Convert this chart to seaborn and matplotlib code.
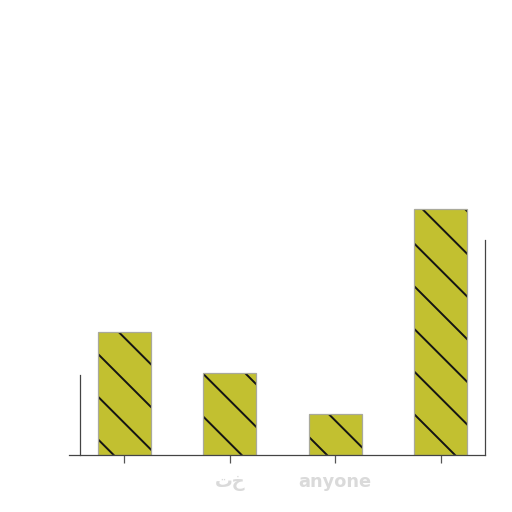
import matplotlib
matplotlib.use("Agg")
import matplotlib.pyplot as plt
import seaborn as sns
import pandas as pd

# values
categories = ["a", "b", "c", "d"]
values = [3, 2, 1, 6]
tick_labels = ["", "تخ", "anyone", ""]

sns.set_theme(style="white")
plt.rcParams["font.family"] = ["DejaVu Sans"]
plt.rcParams["hatch.linewidth"] = 0.55

df = pd.DataFrame({"cat": categories, "val": values})

fig = plt.figure(figsize=(2, 2), dpi=256)
ax = fig.add_axes([80 / 512, 1 - 455 / 512, 405 / 512, 410 / 512])

sns.barplot(data=df, x="cat", y="val", ax=ax, color="#c2c030", saturation=1,
            width=0.5, edgecolor="#a9a99c", linewidth=0.35)
for p in ax.patches:
    p.set_hatch("\\\\")
    p._hatch_color = (0.08, 0.08, 0.08, 1)  # black hatch, grey outline

ax.set_xlim(-0.42, 3.42)
ax.set_ylim(0, 10)
ax.set_xlabel("")
ax.set_ylabel("")
ax.set_yticks([])
ax.set_xticks(range(len(categories)), tick_labels)

for s in ["left", "right", "bottom"]:
    ax.spines[s].set_visible(True)
    ax.spines[s].set_color("#444444")
    ax.spines[s].set_linewidth(0.35)
ax.spines["top"].set_visible(False)
ax.spines["left"].set_bounds(0, 1.95)
ax.spines["right"].set_bounds(0, 5.25)
ax.spines["bottom"].set_bounds(-0.52, 3.42)

ax.tick_params(axis="x", bottom=True, length=2.2, width=0.35, color="#555555",
               labelsize=5, labelcolor="#dadada", pad=3)
for t in ax.get_xticklabels():
    t.set_fontweight("bold")

fig.savefig("out.png", dpi=256)
